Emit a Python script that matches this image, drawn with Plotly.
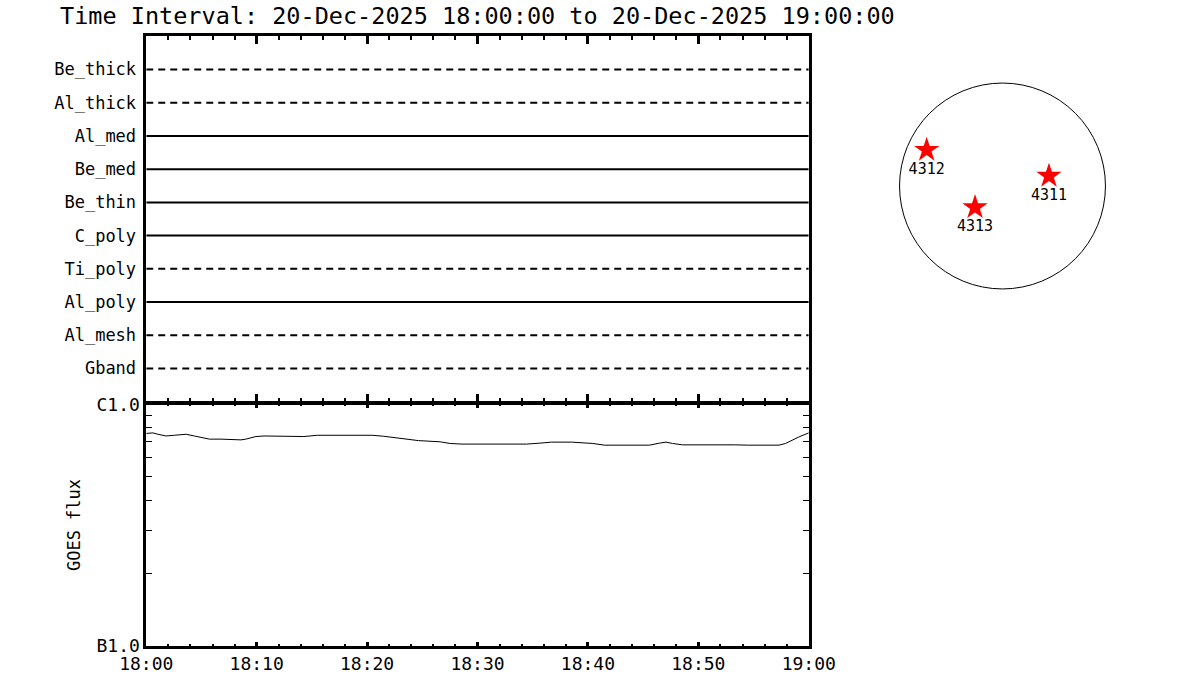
import pandas as pd
import plotly.graph_objects as go

# ---------------- data ----------------
title_text = "Time Interval: 20-Dec-2025 18:00:00 to 20-Dec-2025 19:00:00"
t_start = "2025-12-20 18:00:00"
t_end = "2025-12-20 19:00:00"

# filter rows (top to bottom) and whether data exists (solid) or not (dashed)
filters = ["Be_thick", "Al_thick", "Al_med", "Be_med", "Be_thin",
           "C_poly", "Ti_poly", "Al_poly", "Al_mesh", "Gband"]
observed = [False, False, True, True, True, True, False, True, False, False]

# GOES flux (W/m^2), minutes after 18:00
goes_minutes = [0.0, 0.6, 1.06, 1.8, 2.55, 3.61, 4.36, 5.71, 6.77, 8.57, 9.02,
                9.93, 10.67, 13.38, 14.28, 15.49, 17.59, 20.46, 21.5, 22.56,
                24.66, 26.62, 27.52, 28.58, 34.44, 35.64, 36.7, 38.5, 40.45,
                41.51, 45.57, 46.47, 47.07, 47.67, 48.57, 53.39, 54.44, 57.3,
                57.9, 59.1, 59.71, 60.0]
goes_flux = [7.57e-6, 7.61e-6, 7.51e-6, 7.39e-6, 7.44e-6, 7.51e-6, 7.39e-6,
             7.17e-6, 7.17e-6, 7.12e-6, 7.17e-6, 7.35e-6, 7.39e-6, 7.39e-6,
             7.35e-6, 7.44e-6, 7.44e-6, 7.44e-6, 7.37e-6, 7.26e-6, 7.07e-6,
             6.99e-6, 6.88e-6, 6.84e-6, 6.84e-6, 6.90e-6, 6.97e-6, 6.97e-6,
             6.88e-6, 6.77e-6, 6.77e-6, 6.90e-6, 6.97e-6, 6.88e-6, 6.79e-6,
             6.79e-6, 6.77e-6, 6.77e-6, 6.88e-6, 7.32e-6, 7.51e-6, 7.61e-6]
goes_tickvals = [1e-6, 1e-5]
goes_ticktext = ["B1.0", "C1.0"]
goes_minor = [2e-6, 3e-6, 4e-6, 5e-6, 6e-6, 7e-6, 8e-6, 9e-6]

# active regions on the solar disk (arcsec)
ar_names = ["4312", "4311", "4313"]
ar_x = [-718, 440, -260]
ar_y = [341, 95, -202]
r_sun = 975

# ---------------- figure ----------------
W, H = 1200, 700
LW = 2.5
HL = LW / 2
def px(x):
    return x / W
def py(y):
    return 1 - y / H

FONT = "DejaVu Sans Mono"
goes_times = pd.Timestamp(t_start) + pd.to_timedelta(goes_minutes, unit="m")

fig = go.Figure()

for name, obs in zip(filters, observed):
    fig.add_trace(go.Scatter(
        x=[t_start, t_end], y=[name, name], mode="lines",
        line=dict(color="black", width=2, dash="solid" if obs else "7px,5px"),
        xaxis="x", yaxis="y", showlegend=False, hoverinfo="skip"))

fig.add_trace(go.Scatter(
    x=goes_times, y=goes_flux, mode="lines",
    line=dict(color="black", width=1), xaxis="x2", yaxis="y2",
    showlegend=False))

fig.add_trace(go.Scatter(
    x=ar_x, y=ar_y, mode="markers+text", text=ar_names,
    textposition="bottom center",
    textfont=dict(family=FONT, size=15, color="black"),
    marker=dict(symbol="star", size=19, color="red", line=dict(width=0)),
    xaxis="x3", yaxis="y3", showlegend=False))

fig.add_shape(type="circle", xref="x3", yref="y3",
              x0=-r_sun, y0=-r_sun, x1=r_sun, y1=r_sun,
              line=dict(color="black", width=1))

xdom = [px(145 + HL), px(810 - HL)]
common_x = dict(type="date", range=[t_start, t_end], domain=xdom,
                showgrid=False, zeroline=False, showline=True,
                linecolor="black", linewidth=LW, mirror="ticks",
                ticks="inside", tickcolor="black", tickwidth=2.5,
                dtick=600000, tick0=t_start, automargin=False)

fig.update_layout(
    width=W, height=H, margin=dict(l=0, r=0, t=0, b=0, autoexpand=False),
    paper_bgcolor="white", plot_bgcolor="white",
    font=dict(family=FONT, color="black"),
    xaxis=dict(**common_x, anchor="y", showticklabels=False, ticklen=8,
               minor=dict(dtick=120000, ticks="inside", ticklen=4,
                          tickwidth=2, tickcolor="black")),
    yaxis=dict(domain=[py(403 - HL), py(35 + HL)], anchor="x",
               type="category",
               categoryarray=filters[::-1], range=[-1, len(filters)],
               showgrid=False, zeroline=False, showline=True,
               linecolor="black", linewidth=LW, mirror=True, ticks="",
               tickfont=dict(family=FONT, size=17), automargin=False,
               ticklabelstandoff=4),
    xaxis2=dict(**common_x, anchor="y2", ticklen=4, tickformat="%H:%M",
                tickfont=dict(family=FONT, size=18),
                minor=dict(dtick=120000, ticks="inside", ticklen=2,
                           tickwidth=2, tickcolor="black")),
    yaxis2=dict(domain=[py(647 - HL), py(403 + HL)], anchor="x2",
                type="log",
                range=[-6, -5], tickmode="array", tickvals=goes_tickvals,
                ticktext=goes_ticktext, showgrid=False, zeroline=False,
                showline=True, linecolor="black", linewidth=LW,
                mirror="ticks", ticks="inside", ticklen=0, automargin=False,
                tickfont=dict(family=FONT, size=18),
                minor=dict(tickmode="array", tickvals=goes_minor,
                           ticks="inside", ticklen=6, tickwidth=1,
                           tickcolor="black"),
                title=dict(text="GOES flux", font=dict(family=FONT, size=17),
                           standoff=12)),
    xaxis3=dict(domain=[px(1002.5 - 105.6), px(1002.5 + 105.6)],
                anchor="y3", range=[-1000, 1000], visible=False,
                automargin=False),
    yaxis3=dict(domain=[py(186 + 105.6), py(186 - 105.6)],
                anchor="x3", range=[-1000, 1000], visible=False,
                automargin=False),
    annotations=[dict(text=title_text, xref="paper", yref="paper",
                      x=px(58), y=py(16), xanchor="left", yanchor="middle",
                      showarrow=False,
                      font=dict(family=FONT, size=23.5, color="black"))],
)

fig.write_html("out.html",
               config={"displayModeBar": False},
               post_script="document.body.style.margin='0';"
                           "document.body.style.overflow='hidden';")
